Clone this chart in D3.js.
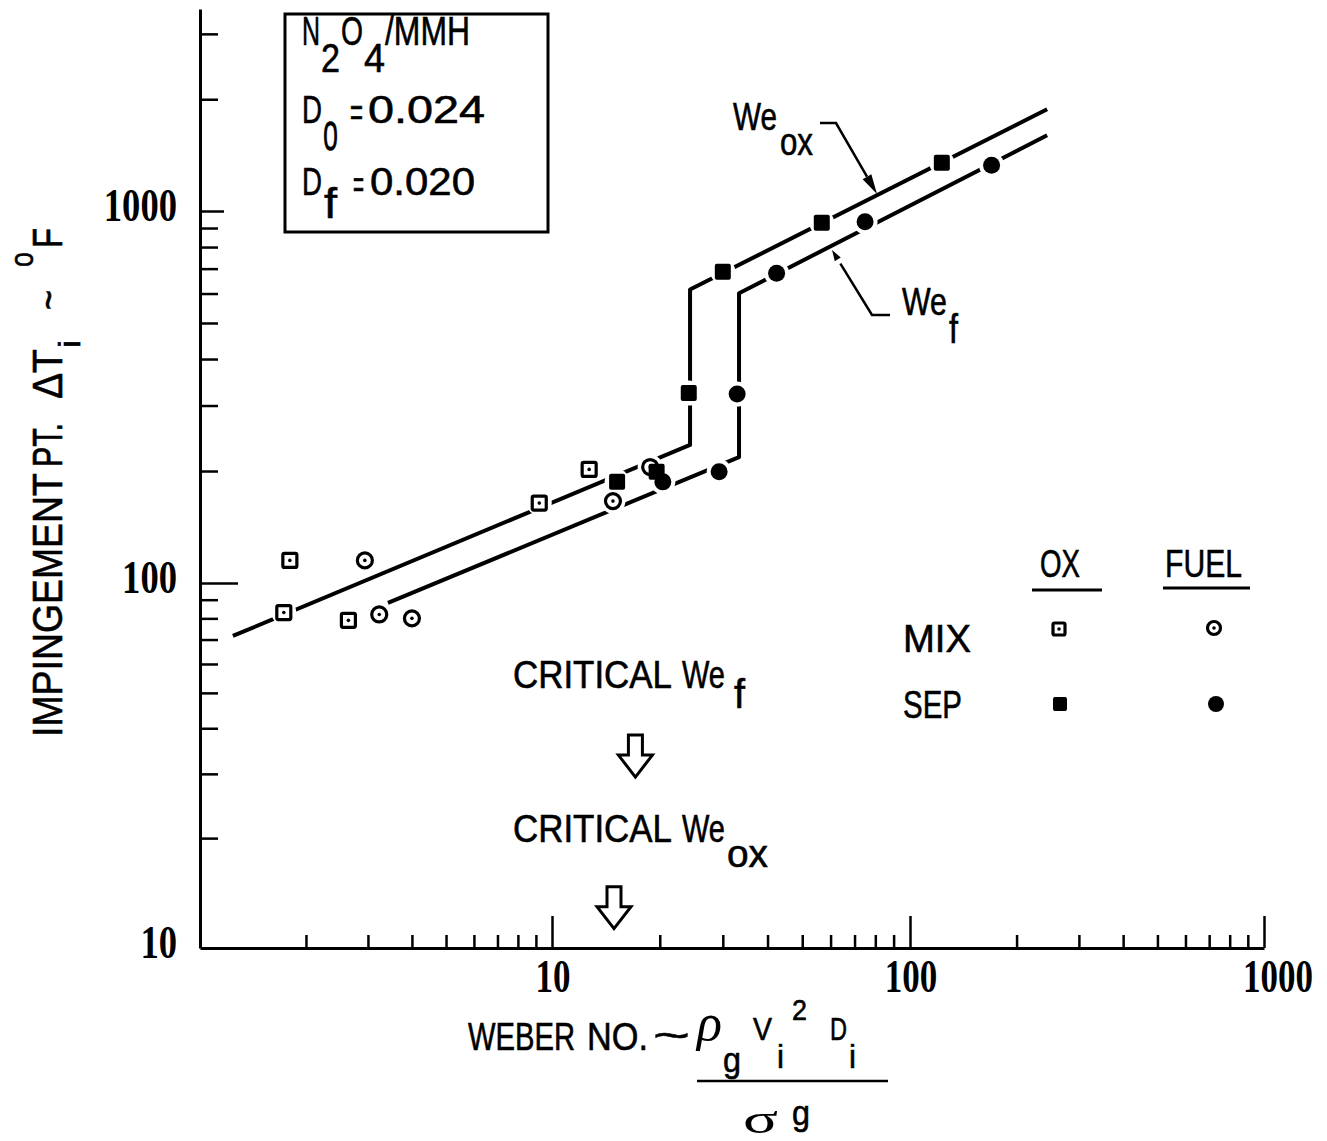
<!DOCTYPE html>
<html><head><meta charset="utf-8">
<script src="https://cdn.jsdelivr.net/npm/d3@7"></script>
<style>
body{margin:0;background:#fff}
svg{display:block}
text{font-family:"Liberation Sans",Arial,sans-serif;fill:#000}
text.sans{stroke:#000;stroke-width:0.6px}
</style>
</head><body>
<svg id="c" width="1327" height="1141"></svg>
<script>
// ---- data ----
const xTickMajor = [10, 100, 1000];
const xTickMinor = [2,3,4,5,6,7,8,9,20,30,40,50,60,70,80,90,200,300,400,500,600,700,800,900];
const xTickLabels = ["10", "100", "1000"];
const yTickMajor = [100, 1000];
const yTickMinor = [20,30,40,50,60,70,80,90,200,300,400,500,600,700,800,900,2000,3000];
const yTickValues = [10, 100, 1000];
const yTickLabels = ["10", "100", "1000"];

const mixOx   = [[1.80,115],[1.73,83],[2.64,79],[9.2,164],[12.7,202]];
const mixFuel = [[2.94,115],[3.23,82],[4.0,80],[14.8,166],[18.8,205]];
const sepOx   = [[15.2,187],[19.6,199],[24.1,324],[30.0,687],[56.7,930],[123,1348]];
const sepFuel = [[20.4,187],[29.3,199],[32.9,322],[42.4,680],[74.9,936],[170,1329]];

const weOxLine = [[1.24,71.6],[24.3,235],[24.3,615],[244,1880]];
const weFLine  = [[3.42,88.2],[33.3,218],[33.3,601],[244,1600]];

const criticalWeX = [17.1, 14.9];   // Critical We_f, Critical We_ox (arrow positions)
const criticalTipY = [29.4, 11.3];

// ---- scales ----
const x = d3.scaleLog().domain([1,10,100,1000]).range([200,552,910,1264]);
const y = d3.scaleLog().domain([10,100,1000,3500]).range([948,583,211,9]);

const svg = d3.select("#c");
svg.append("rect").attr("width",1327).attr("height",1141).attr("fill","#fff");

// ---- text helper: condensed via horizontal scale so boxes stay true ----
function T(s, tx, ty, size, w, opt){
  opt = opt || {};
  const t = (opt.g || svg).append("text").attr("font-size",size).text(s);
  if (!opt.serif) t.attr("class","sans");
  if (opt.italic) t.attr("font-style","italic");
  if (opt.bold) t.attr("font-weight","bold");
  if (opt.serif) t.style("font-family","'Liberation Serif',serif");
  const nat = t.node().getComputedTextLength();
  const sx = (w && nat) ? w/nat : 1;
  t.attr("transform",`translate(${tx},${ty}) scale(${sx},1)`);
  return t;
}

// ---- axes ----
const gx = svg.append("g").attr("transform",`translate(0,${y(10)})`);
gx.call(d3.axisBottom(x).tickValues(xTickMinor).tickSizeInner(-13).tickSizeOuter(0).tickFormat(""));
const gx2 = svg.append("g").attr("transform",`translate(0,${y(10)})`);
gx2.call(d3.axisBottom(x).tickValues(xTickMajor).tickSizeInner(-32).tickSizeOuter(0).tickFormat(""));
gx2.select(".domain").remove();

const gy = svg.append("g").attr("transform",`translate(${x(1)},0)`);
gy.call(d3.axisLeft(y).tickValues(yTickMinor).tickSizeInner(-18).tickSizeOuter(0).tickFormat(""));
const gy2 = svg.append("g").attr("transform",`translate(${x(1)},0)`);
gy2.call(d3.axisLeft(y).tickValues(yTickMajor).tickSizeInner(-30).tickSizeOuter(0).tickFormat(""));
gy2.select(".domain").remove();
gy2.selectAll(".tick line").attr("x2", d => d===100 ? 38 : 24);

svg.selectAll(".domain").attr("stroke","#000").attr("stroke-width",3);
svg.selectAll(".tick line").attr("stroke","#000").attr("stroke-width",2.5);

// tick labels
xTickMajor.forEach((v,i)=>{
  const s = xTickLabels[i];
  const w = s.length*17.5;
  const cx = x(v) + (i===2 ? 14 : 1);
  T(s, cx-w/2, 992, 46, w, {serif:true, bold:true});
});
yTickValues.forEach((v,i)=>{
  const s = yTickLabels[i];
  const w = s.length*18.3;
  T(s, 177-w, y(v)+10, 46, w, {serif:true, bold:true});
});

// ---- lines ----
const line = d3.line().x(d=>x(d[0])).y(d=>y(d[1]));
[weOxLine, weFLine].forEach(L=>{
  svg.append("path").attr("d",line(L)).attr("fill","none").attr("stroke","#000")
    .attr("stroke-width",4).attr("stroke-linejoin","round");
});

// halos (gaps around points)
const allPts = [...sepOx, ...sepFuel, ...mixOx, ...mixFuel];
svg.append("g").selectAll("circle").data(allPts).join("circle")
  .attr("cx",d=>x(d[0])).attr("cy",d=>y(d[1])).attr("r",12.5).attr("fill","#fff");

// ---- markers ----
function openSquare(g, cx, cy, s){
  g.append("rect").attr("x",cx-s/2).attr("y",cy-s/2).attr("width",s).attr("height",s)
    .attr("fill","#fff").attr("stroke","#000").attr("stroke-width",3.2).attr("rx",1.5);
  g.append("circle").attr("cx",cx).attr("cy",cy).attr("r",1.8).attr("fill","#000");
}
function openCircle(g, cx, cy, r){
  g.append("circle").attr("cx",cx).attr("cy",cy).attr("r",r)
    .attr("fill","#fff").attr("stroke","#000").attr("stroke-width",3.2);
  g.append("circle").attr("cx",cx).attr("cy",cy).attr("r",1.8).attr("fill","#000");
}
function fillSquare(g, cx, cy, s){
  g.append("rect").attr("x",cx-s/2).attr("y",cy-s/2).attr("width",s).attr("height",s)
    .attr("fill","#000").attr("rx",2);
}
function fillCircle(g, cx, cy, r){
  g.append("circle").attr("cx",cx).attr("cy",cy).attr("r",r).attr("fill","#000");
}
const gm = svg.append("g");
mixOx.forEach(d=>openSquare(gm, x(d[0]), y(d[1]), 14));
mixFuel.forEach(d=>openCircle(gm, x(d[0]), y(d[1]), 7.5));
sepOx.forEach(d=>fillSquare(gm, x(d[0]), y(d[1]), 16));
sepFuel.forEach(d=>fillCircle(gm, x(d[0]), y(d[1]), 8.5));

// ---- info box ----
svg.append("rect").attr("x",285).attr("y",14).attr("width",263).attr("height",218)
  .attr("fill","none").attr("stroke","#000").attr("stroke-width",3);
T("N",302,45,41,18); T("2",321,72,41,19); T("O",341,45,41,22); T("4",364,72,41,21); T("/MMH",385,45,41,85);
T("D",302,123,39,20); T("o",323,150,52,15); T("=",350,126,39,13); T("0.024",368,123,39,117);
T("D",302,195,39,20); T("f",324,218,42,13); T("=",353,198,39,11); T("0.020",370,195,39,105);

// ---- curve labels & leaders ----
T("We",733,130,38,44); T("ox",780,155,38,33);
function leader(pts, tip, hl, hw, gap){
  const p = pts[pts.length-1];
  const dx = tip[0]-p[0], dy = tip[1]-p[1], L = Math.hypot(dx,dy);
  const ux = dx/L, uy = dy/L;
  const bx = tip[0]-ux*hl, by = tip[1]-uy*hl;
  const path = d3.path();
  path.moveTo(pts[0][0],pts[0][1]);
  pts.slice(1).forEach(q=>path.lineTo(q[0],q[1]));
  path.lineTo(bx-ux*gap, by-uy*gap);
  svg.append("path").attr("d",path.toString()).attr("fill","none").attr("stroke","#000").attr("stroke-width",2.5);
  svg.append("path").attr("d",`M${tip[0]},${tip[1]}L${bx-uy*hw},${by+ux*hw}L${bx+uy*hw},${by-ux*hw}Z`).attr("fill","#000");
}
leader([[820,123],[836,123]], [877,194], 20, 5, 0);
T("We",902,315,38,45); T("f",949,343,40,9);
leader([[890,315],[872,315]], [832,250], 11, 3.5, 5);

// ---- legend ----
T("OX",1040,577,39,40); T("FUEL",1165,577,39,77);
svg.append("line").attr("x1",1032).attr("x2",1102).attr("y1",590).attr("y2",590).attr("stroke","#000").attr("stroke-width",3);
svg.append("line").attr("x1",1163).attr("x2",1250).attr("y1",588).attr("y2",588).attr("stroke","#000").attr("stroke-width",3);
T("MIX",903,652,39,68); T("SEP",903,718,39,59);
openSquare(svg,1059,629,12); openCircle(svg,1214,628,6.5);
fillSquare(svg,1060,704,14); fillCircle(svg,1216,704,8);

// ---- critical Weber arrows ----
T("CRITICAL",513,688,38,159); T("We",682,688,38,43); T("f",734,708,40,11);
T("CRITICAL",513,842,38,159); T("We",682,842,38,43); T("ox",727,867,38,41);
criticalWeX.forEach((v,i)=>{
  const tx = x(v), ty = y(criticalTipY[i]);
  const pts = [[tx-7,ty-42],[tx+7,ty-42],[tx+7,ty-22],[tx+17,ty-22],[tx,ty],[tx-17,ty-22],[tx-7,ty-22]];
  svg.append("polygon").attr("points",pts.map(p=>p.join(",")).join(" "))
    .attr("fill","#fff").attr("stroke","#000").attr("stroke-width",3).attr("stroke-linejoin","miter");
});

// ---- x axis title ----
T("WEBER",468,1050,39,107); T("NO.",587,1050,39,61); T("~",653,1049,40,37);
T("ρ",697,1040,52,25,{italic:true,serif:true}); T("g",723,1072,36,18);
T("V",753,1040,32,19); T("i",777,1068,34,7); T("2",792,1020,30,15);
T("D",830,1040,32,17); T("i",849,1068,34,7);
svg.append("line").attr("x1",697).attr("x2",888).attr("y1",1081).attr("y2",1081).attr("stroke","#000").attr("stroke-width",2.5);
T("σ",743,1133,42,35,{serif:true}); T("g",792,1125,36,18);

// ---- y axis title (rotated) ----
const gt = svg.append("g").attr("transform","translate(62,737) rotate(-90)");
T("IMPINGEMENT",0,0,42,264,{g:gt});
T("PT.",270,0,42,44,{g:gt});
T("ΔT",338,0,42,50,{g:gt});
T("i",389,18,30,8,{g:gt});
T("~",427,0,40,20,{g:gt});
T("o",470,-29,34,15,{g:gt});
T("F",489,0,42,20,{g:gt});
</script>
</body></html>
